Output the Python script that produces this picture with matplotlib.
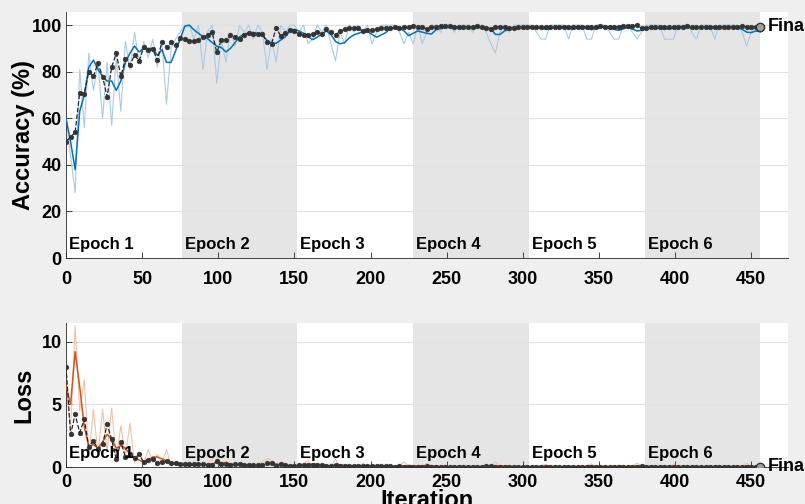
import numpy as np
import matplotlib
matplotlib.use("Agg")
import matplotlib.pyplot as plt
import matplotlib.transforms as mtransforms

plt.rcParams['font.family'] = ['Liberation Sans', 'DejaVu Sans']
plt.rcParams['font.weight'] = 'bold'

iters_per_epoch = 76
n_epochs = 6
step = 3
epoch_labels = ["Epoch 1", "Epoch 2", "Epoch 3", "Epoch 4", "Epoch 5", "Epoch 6"]
x_ticks = [0, 50, 100, 150, 200, 250, 300, 350, 400, 450]
acc_ticks = [0, 20, 40, 60, 80, 100]
loss_ticks = [0, 5, 10]

train_acc_raw = [
    60, 44, 28, 81, 56, 88, 72, 84, 60, 84,
    57, 86, 63, 93, 81, 97, 84, 93, 86, 94,
    82, 93, 66, 90, 94, 97, 100, 100, 94, 100,
    81, 97, 100, 75, 94, 84, 97, 91, 100, 97,
    100, 94, 100, 97, 81, 94, 84, 100, 97, 100,
    100, 97, 100, 92, 94, 100, 97, 100, 92, 84.7,
    97, 92, 100, 97, 100, 97, 100, 92, 97, 100,
    100, 100, 100, 97, 92, 97, 92, 100, 92, 97,
    100, 100, 97, 100, 100, 97, 100, 100, 100, 97,
    100, 100, 97, 92, 88, 97, 100, 97, 100, 100,
    100, 100, 100, 97, 94, 94, 100, 100, 100, 100,
    94, 100, 100, 100, 94, 94, 100, 100, 100, 97,
    94, 94, 100, 100, 97, 94, 97, 100, 100, 100,
    100, 94, 94, 94, 100, 100, 100, 97, 94, 100,
    100, 100, 94, 100, 100, 100, 100, 100, 97, 91,
    97, 100, 97,
]

train_acc_smooth = [
    60, 50, 38, 63, 70, 82, 85, 81, 78, 76,
    76, 72, 76, 84, 88, 91, 88.5, 90, 90, 90,
    87, 89.5, 84, 84, 89, 94, 99.5, 100, 98, 96.5,
    95, 94.2, 92.5, 91, 90.4, 88.5, 90, 92.5, 95, 96.2,
    96.6, 96.9, 96.3, 95.6, 93.5, 92.2, 92.2, 93.6, 95, 97.4,
    98.2, 97.5, 96.5, 95, 93.8, 94.8, 96.2, 97.5, 96, 93,
    92, 92.5, 94.5, 95.8, 96.5, 97.2, 97.3, 96, 94.8, 95.8,
    96.8, 98.5, 99, 99, 97.5, 95.5, 96.5, 97.5, 97, 96.5,
    96.2, 98, 98.5, 99, 99, 99, 98.8, 99, 99.2, 99,
    99, 99, 98.8, 98.5, 96, 96, 97.5, 98.2, 98.8, 99,
    99, 99.2, 99, 99, 98.6, 98.2, 98.5, 99, 99.2, 99,
    98.5, 98.2, 98.8, 99.2, 98.6, 98.1, 98.6, 99, 99.2, 98.6,
    98.2, 97.8, 98.4, 99, 98.3, 97.5, 97.8, 98.6, 99, 99.2,
    98.7, 98.2, 98.4, 98.8, 99, 99.2, 99.3, 98.8, 98.6, 99,
    99.2, 98.8, 98.7, 99, 99.2, 99.3, 99.1, 99, 98.2, 97,
    96.8, 97.5, 97.2,
]

val_acc = [
    50, 52, 54, 71, 70.6, 80, 78, 83.7, 77.9, 69.3,
    82, 87.9, 78, 85.3, 83, 87, 84.7, 90.4, 89.4, 89.6,
    85, 92.9, 90.4, 92.6, 91.3, 94.3, 94, 93.1, 93.1, 93.7,
    94.7, 95.7, 97, 88.3, 93.6, 93.7, 95.6, 94.7, 93.9, 95.7,
    96.6, 96.4, 96.4, 96.4, 92.6, 92.1, 98.7, 95.4, 96.7, 97.9,
    97.3, 96.2, 95.6, 95.8, 96.1, 96.9, 96.4, 98.5, 96.9, 95.9,
    97.3, 98.3, 98.6, 98.7, 98.6, 97.3, 97.9, 98, 98.3, 98.6,
    98.7, 98.7, 99, 98.7, 99, 99, 99.7, 99, 99, 98.3,
    99, 99.3, 99.7, 99.7, 99.6, 99.4, 99.3, 99.3, 99, 99,
    99.6, 99.3, 98.7, 98.3, 99.3, 99.4, 99, 98.7, 98.7, 99,
    99, 99.3, 99.3, 99.3, 99.1, 99.3, 99.4, 99.4, 99.3, 99.4,
    99.3, 99.4, 99.4, 99.3, 99.4, 99.4, 99.4, 99.6, 99.4, 99.4,
    99.3, 99.4, 99.6, 99.6, 99.7, 99.9, 98.6, 98.9, 99.1, 99.1,
    99.3, 99.3, 99.1, 99.3, 99.3, 99.4, 99.6, 99.3, 99.3, 99.4,
    99.3, 99.3, 99.4, 99.3, 99.1, 99.3, 99.4, 99.4, 99.6, 99.4,
    99.4, 99.3, 99.4,
]

train_loss_raw = [
    6.5, 3.0, 11.3, 4.5, 7.0, 0.8, 4.6, 1.0, 4.6, 1.2,
    4.7, 0.6, 3.3, 0.9, 3.5, 0.3, 1.2, 0.2, 1.4, 0.4,
    1.0, 0.3, 1.4, 0.1, 0.4, 0.1, 0.3, 0.05, 0.2, 0.4,
    0.05, 0.3, 0.6, 0.9, 0.1, 0.5, 0.05, 0.2, 0.1, 0.05,
    0.3, 0.05, 0.2, 0.4, 0.7, 0.5, 0.05, 0.3, 0.05, 0.05,
    0.05, 0.1, 0.3, 0.5, 0.1, 0.05, 0.2, 0.02, 0.1, 0.6,
    0.1, 0.05, 0.02, 0.1, 0.05, 0.3, 0.05, 0.02, 0.1, 0.02,
    0.05, 0.02, 0.05, 0.1, 0.4, 0.05, 0.02, 0.1, 0.05, 0.3,
    0.02, 0.05, 0.02, 0.02, 0.05, 0.02, 0.1, 0.02, 0.02, 0.05,
    0.02, 0.02, 0.1, 0.05, 0.4, 0.05, 0.02, 0.02, 0.05, 0.02,
    0.02, 0.05, 0.02, 0.02, 0.1, 0.2, 0.02, 0.02, 0.05, 0.02,
    0.1, 0.05, 0.02, 0.02, 0.1, 0.25, 0.02, 0.02, 0.05, 0.02,
    0.1, 0.15, 0.02, 0.02, 0.05, 0.3, 0.1, 0.02, 0.02, 0.02,
    0.02, 0.1, 0.05, 0.2, 0.02, 0.02, 0.02, 0.05, 0.1, 0.02,
    0.02, 0.02, 0.1, 0.02, 0.02, 0.02, 0.02, 0.02, 0.05, 0.3,
    0.05, 0.02, 0.05,
]

train_loss_smooth = [
    6.5, 5.0, 9.2, 6.4, 3.2, 1.6, 1.8, 1.5, 2.0, 2.6,
    2.2, 1.5, 1.7, 1.5, 1.0, 0.8, 0.55, 0.4, 0.55, 0.8,
    0.8, 0.65, 0.5, 0.3, 0.25, 0.2, 0.15, 0.15, 0.2, 0.22,
    0.2, 0.2, 0.25, 0.35, 0.35, 0.3, 0.25, 0.2, 0.15, 0.12,
    0.12, 0.1, 0.12, 0.15, 0.25, 0.3, 0.25, 0.2, 0.15, 0.1,
    0.1, 0.12, 0.15, 0.2, 0.25, 0.22, 0.18, 0.12, 0.1, 0.15,
    0.18, 0.14, 0.1, 0.08, 0.07, 0.08, 0.1, 0.12, 0.1, 0.08,
    0.06, 0.05, 0.05, 0.08, 0.1, 0.12, 0.1, 0.08, 0.08, 0.1,
    0.1, 0.07, 0.05, 0.04, 0.04, 0.04, 0.05, 0.04, 0.04, 0.04,
    0.04, 0.04, 0.05, 0.06, 0.1, 0.1, 0.07, 0.05, 0.04, 0.04,
    0.04, 0.04, 0.04, 0.04, 0.05, 0.08, 0.06, 0.05, 0.04, 0.04,
    0.05, 0.05, 0.04, 0.04, 0.05, 0.09, 0.07, 0.05, 0.04, 0.04,
    0.05, 0.07, 0.05, 0.04, 0.04, 0.1, 0.09, 0.06, 0.05, 0.04,
    0.04, 0.05, 0.05, 0.08, 0.06, 0.05, 0.04, 0.04, 0.05, 0.04,
    0.04, 0.04, 0.05, 0.04, 0.04, 0.04, 0.04, 0.04, 0.04, 0.1,
    0.08, 0.06, 0.06,
]

val_loss = [
    8.0, 2.6, 4.2, 2.75, 3.8, 1.6, 2.1, 1.4, 1.8, 3.4,
    2.2, 0.6, 2.0, 0.8, 1.0, 0.7, 1.0, 0.4, 0.55, 0.6,
    0.3, 0.4, 0.45, 0.3, 0.35, 0.25, 0.25, 0.22, 0.22, 0.2,
    0.2, 0.18, 0.15, 0.45, 0.22, 0.22, 0.18, 0.2, 0.22, 0.18,
    0.15, 0.15, 0.15, 0.15, 0.3, 0.32, 0.08, 0.2, 0.15, 0.1,
    0.12, 0.15, 0.16, 0.16, 0.15, 0.14, 0.15, 0.08, 0.12, 0.15,
    0.1, 0.08, 0.07, 0.06, 0.07, 0.1, 0.08, 0.07, 0.06, 0.05,
    0.05, 0.05, 0.04, 0.05, 0.04, 0.04, 0.03, 0.04, 0.04, 0.06,
    0.04, 0.03, 0.02, 0.02, 0.03, 0.03, 0.03, 0.03, 0.04, 0.04,
    0.03, 0.03, 0.05, 0.06, 0.03, 0.03, 0.04, 0.04, 0.04, 0.03,
    0.03, 0.03, 0.03, 0.03, 0.03, 0.03, 0.03, 0.03, 0.03, 0.03,
    0.03, 0.03, 0.03, 0.03, 0.03, 0.03, 0.03, 0.02, 0.03, 0.03,
    0.03, 0.03, 0.02, 0.02, 0.02, 0.02, 0.05, 0.04, 0.03, 0.03,
    0.03, 0.03, 0.03, 0.03, 0.03, 0.03, 0.02, 0.03, 0.03, 0.03,
    0.03, 0.03, 0.03, 0.03, 0.03, 0.03, 0.03, 0.03, 0.02, 0.03,
    0.03, 0.03, 0.03,
]

BG = "#efefef"
SHADE = "#e5e5e5"
AXC = "#262626"


def panel(ax, raw, smooth, val, raw_color, line_color, ylim, yticks, ylabel, lab_y, xpad):
    x = np.arange(len(val)) * step
    last = n_epochs * iters_per_epoch

    # epoch shading (every second epoch)
    for e in range(n_epochs):
        if e % 2 == 1:
            ax.axvspan(e * iters_per_epoch, (e + 1) * iters_per_epoch,
                       color=SHADE, lw=0, zorder=0)

    ax.plot(x, raw, color=raw_color, lw=0.8, zorder=2)
    ax.plot(x, smooth, color=line_color, lw=1.1, zorder=3)
    ax.plot(x, val, color=AXC, ls="--", lw=0.9, marker="o", ms=3.4,
            mfc="#333333", mec="#333333", mew=0.4, zorder=4)
    ax.plot(x[-1], val[-1], "o", ms=6, mfc="#a0a0a0", mec="#333333",
            mew=1.0, zorder=5)
    ax.annotate("Final", (x[-1], val[-1]), xytext=(5, 0),
                textcoords="offset points", ha="left", va="center",
                fontsize=13, fontweight="bold", annotation_clip=False)

    trans = mtransforms.blended_transform_factory(ax.transData, ax.transAxes)
    for e, lab in enumerate(epoch_labels):
        ax.text(e * iters_per_epoch + 2, lab_y, lab, transform=trans,
                ha="left", va="bottom", fontsize=12, fontweight="bold", zorder=6)

    ax.set_xlim(0, last * 1.04)
    ax.set_ylim(*ylim)
    ax.set_xticks(x_ticks)
    ax.set_yticks(yticks)
    ax.set_facecolor("white")
    ax.yaxis.grid(True, color="#e2e2e2", lw=0.8)
    ax.set_axisbelow(True)
    for s in ["top", "right"]:
        ax.spines[s].set_visible(False)
    for s in ["left", "bottom"]:
        ax.spines[s].set_color(AXC)
        ax.spines[s].set_linewidth(0.6)
    ax.tick_params(direction="in", length=4, width=0.6, colors=AXC,
                   labelcolor="black", labelsize=13)
    ax.tick_params(axis="x", pad=xpad)
    ax.tick_params(axis="y", pad=3)
    ax.set_ylabel(ylabel, fontsize=17, fontweight="bold")
    ax.yaxis.set_label_coords(-0.043, 0.5)


fig = plt.figure(figsize=(8.05, 5.04), dpi=100, facecolor=BG)

ax_acc = fig.add_axes([0.082, 0.488, 0.897, 0.488])
panel(ax_acc, train_acc_raw, train_acc_smooth, val_acc,
      "#a9cbe6", "#0072bd", (0, 105.6), acc_ticks, "Accuracy (%)", 0.025, 9)

ax_loss = fig.add_axes([0.082, 0.0734, 0.897, 0.286])
panel(ax_loss, train_loss_raw, train_loss_smooth, val_loss,
      "#f2c2a8", "#d95319", (0, 11.5), loss_ticks, "Loss", 0.042, 5)

fig.text(0.53, 0.030, "Iteration", ha="center", va="top",
         fontsize=17, fontweight="bold")

fig.savefig("out.png", dpi=100, facecolor=BG)
